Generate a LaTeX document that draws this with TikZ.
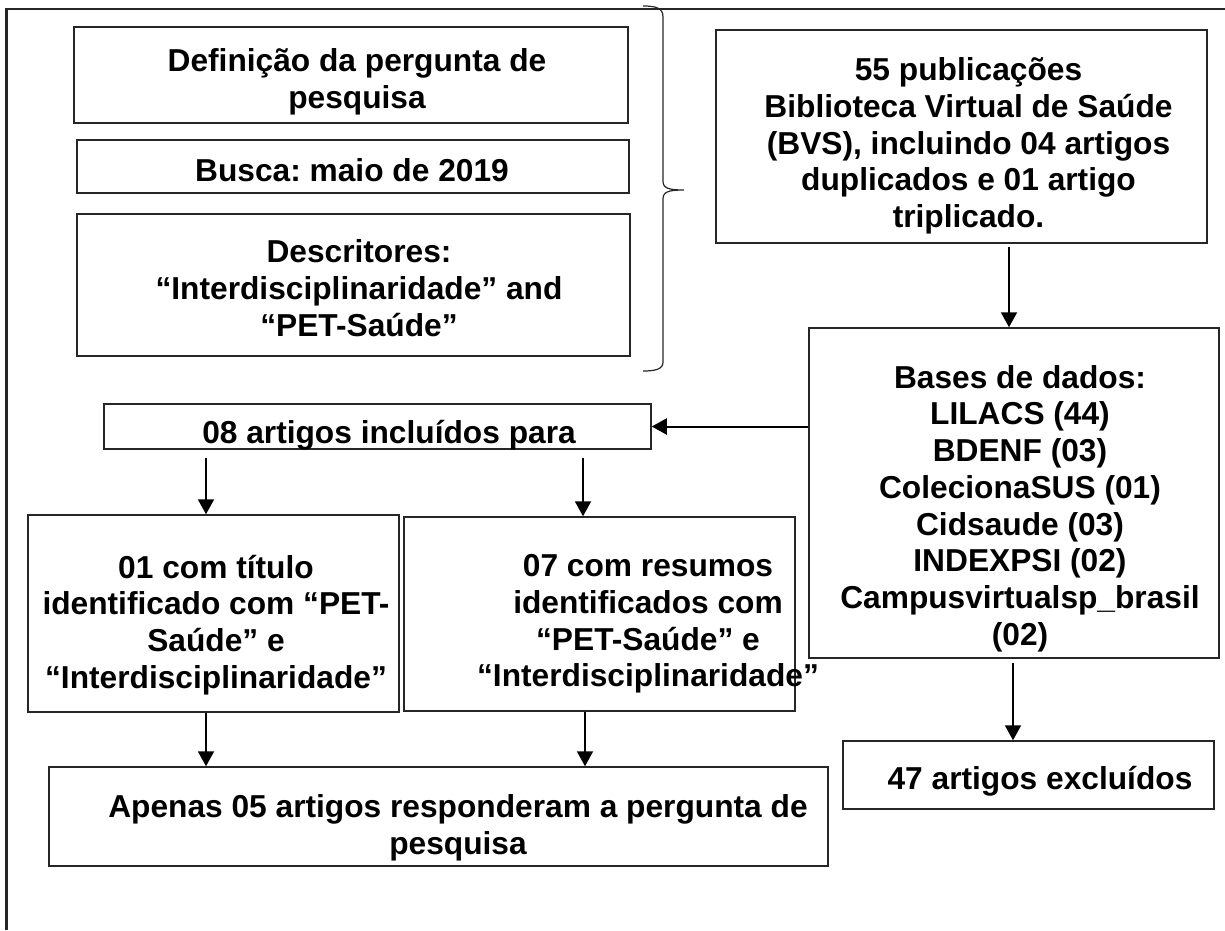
\documentclass[tikz,border=0pt]{standalone}
\usepackage{fontspec}
\setmainfont{Liberation Sans}
\usepackage{tikz}
\usetikzlibrary{arrows.meta}
\frenchspacing

\begin{document}
\begin{tikzpicture}[x=1pt,y=-1pt,box/.style={draw=black!85,line width=1.5pt,inner sep=0pt},txt/.style={align=center,inner sep=0pt,font=\fontsize{31.7pt}{36.7pt}\selectfont\bfseries},arr/.style={line width=2pt,-{Triangle[length=15pt,width=16pt]}}]
  \useasboundingbox (0,0) rectangle (1225,930);
  %frame
  \draw[line width=2.2pt,black!85] (6.5,930) -- (6.5,9) -- (1225,9);
  %left column
  \node[box,minimum width=554pt,minimum height=96pt] (defbox) at (351,75) {};
  \node[txt,at=(defbox.center),xshift=6pt,yshift=-7pt] (deftxt) {Definição da pergunta de\\pesquisa};
  \node[box,minimum width=552pt,minimum height=53pt] (buscabox) at (353,166.5) {};
  \node[txt,at=(buscabox.center),xshift=-1pt,yshift=-3.5pt] (buscatxt) {Busca: maio de 2019};
  \node[box,minimum width=553pt,minimum height=142pt] (descbox) at (353.5,285) {};
  \node[txt,at=(descbox.center),xshift=5.5pt,yshift=-3pt] (desctxt) {Descritores:\\“Interdisciplinaridade” and\\“PET-Saúde”};
  %brace
  \draw[line width=1.2pt,black!85] (643,6) .. controls (656,6) and (663,8) .. (663,17) -- (663,181) .. controls (663,188) and (668,190) .. (684,190) .. controls (668,190) and (663,192) .. (663,199) -- (663,362) .. controls (663,369) and (656,371) .. (643,371);
  %right column
  \node[box,minimum width=491pt,minimum height=213pt] (pubbox) at (961.5,136.5) {};
  \node[txt,at=(pubbox.center),xshift=7pt,yshift=-9.5pt] (pubtxt) {55 publicações\\Biblioteca Virtual de Saúde\\(BVS), incluindo 04 artigos\\duplicados e 01 artigo\\triplicado.};
  \node[box,minimum width=410pt,minimum height=330pt] (basesbox) at (1014,493) {};
  \node[txt,at=(basesbox.center),xshift=6pt,yshift=-15.5pt] (basestxt) {Bases de dados:\\LILACS (44)\\BDENF (03)\\ColecionaSUS (01)\\Cidsaude (03)\\INDEXPSI (02)\\Campusvirtualsp\_brasil\\(02)};
  \node[box,minimum width=371pt,minimum height=68pt] (exclbox) at (1028.5,775) {};
  \node[txt,at=(exclbox.center),xshift=11.5pt,yshift=-6pt] (excltxt) {47 artigos excluídos};
  %included
  \node[box,minimum width=547pt,minimum height=45pt] (inclbox) at (377.5,426.5) {};
  \node[txt,at=(inclbox.center),xshift=11.5pt,yshift=-8.5pt] (incltxt) {08 artigos incluídos para};
  \node[box,minimum width=371pt,minimum height=197pt] (titbox) at (213.5,613.5) {};
  \node[txt,at=(titbox.center),xshift=2.5pt,yshift=-11.5pt] (tittxt) {01 com título\\identificado com “PET-\\Saúde” e\\“Interdisciplinaridade”};
  \node[box,minimum width=391pt,minimum height=194pt] (resbox) at (599.5,614) {};
  \node[txt,at=(resbox.center),xshift=48.5pt,yshift=-10pt] (restxt) {07 com resumos\\identificados com\\“PET-Saúde” e\\“Interdisciplinaridade”};
  \node[box,minimum width=779pt,minimum height=99pt] (apbox) at (438.5,816.5) {};
  \node[txt,at=(apbox.center),xshift=19.5pt,yshift=-11.5pt] (aptxt) {Apenas 05 artigos responderam a pergunta de\\pesquisa};
  %arrows
  \draw[arr] ([xshift=47.5pt,yshift=-3pt]pubbox.south) -- ([xshift=-5pt]basesbox.north);
  \draw[arr] (basesbox.west |- inclbox.east) -- (inclbox.east);
  \draw[arr] ([xshift=-171.5pt,yshift=-8pt]inclbox.south) -- ([xshift=-7.5pt]titbox.north);
  \draw[arr] ([xshift=205.5pt,yshift=-8pt]inclbox.south) -- ([xshift=-16.5pt]resbox.north);
  \draw[arr] ([xshift=-7.5pt]titbox.south) -- ([xshift=-232.5pt]apbox.north);
  \draw[arr] ([xshift=-14.5pt]resbox.south) -- ([xshift=146.5pt]apbox.north);
  \draw[arr] ([xshift=-1pt,yshift=-4pt]basesbox.south) -- ([xshift=-15.5pt]exclbox.north);
\end{tikzpicture}
\end{document}
